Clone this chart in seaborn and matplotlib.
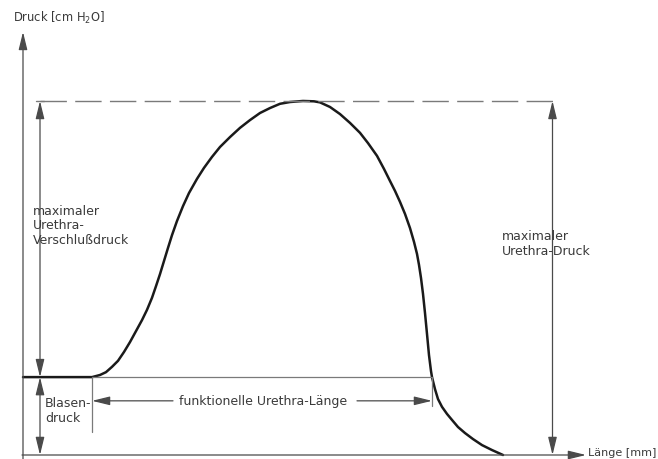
import matplotlib
matplotlib.use("Agg")
import matplotlib.pyplot as plt
import seaborn as sns
import pandas as pd

# --- data ---
laenge_mm = [0, 13.8, 15.4, 16.6, 17.8, 19.0, 20.2, 21.4, 22.6, 23.8, 24.8, 25.8,
             26.6, 27.4, 28.2, 29.0, 29.8, 30.8, 32.0, 33.2, 34.8, 36.2, 37.8,
             39.4, 41.4, 43.4, 45.4, 47.4, 49.4, 51.4, 53.4, 56.0,
             58.2, 59.4, 61.4, 63.4, 65.4, 67.4, 69.0, 70.8, 72.2, 73.4, 74.4,
             75.4, 76.4, 77.4, 78.2, 78.8, 79.2, 79.6, 80.0, 80.4, 80.8, 81.2,
             81.6, 81.8, 82.4, 83.0, 83.8, 84.8, 85.8, 87.0, 88.4, 90.0, 91.8, 93.8, 96.0]
druck_cmh2o = [22.0, 22.0, 22.6, 23.4, 24.9, 26.6, 29.1, 31.9, 35.0, 38.1, 41.0, 44.4,
               47.7, 51.1, 54.8, 58.5, 62.1, 66.1, 70.3, 74.0, 78.0, 81.1, 84.2,
               87.0, 89.8, 92.4, 94.6, 96.6, 98.0, 99.2, 99.7, 100.0,
               99.9, 99.6, 98.3, 96.3, 93.8, 91.0, 88.1, 84.5, 80.8, 77.4, 74.6,
               71.5, 68.1, 64.1, 60.2, 56.8, 53.7, 50.0, 45.5, 40.1, 34.2, 28.2,
               23.7, 22.0, 18.6, 15.8, 13.6, 11.6, 9.9, 7.9, 6.2, 4.5, 2.8, 1.4, 0.0]
blasendruck = 22.0
max_druck = 100.0
start_urethra = 13.8
ende_urethra = 81.8

label_y = "Druck [cm H$_2$O]"
label_x = "Länge [mm]"
label_mvd = "maximaler\nUrethra-\nVerschlußdruck"
label_mud = "maximaler\nUrethra-Druck"
label_blase = "Blasen-\ndruck"
label_fl = "funktionelle Urethra-Länge"

df = pd.DataFrame({"Länge": laenge_mm, "Druck": druck_cmh2o})

sns.set_theme(style="white")
plt.rcParams["font.family"] = ["DejaVu Sans"]

fig = plt.figure(figsize=(6.58, 4.60), dpi=100)
ax = fig.add_axes([0, 0, 1, 1])
ax.set_xlim(-4.6, 127.0)
ax.set_ylim(-1.13, 128.8)
ax.axis("off")

grey = "#7a7a7a"
txt = "#3a3a3a"
thin = 0.9

sns.lineplot(data=df, x="Länge", y="Druck", ax=ax, color="#1a1a1a", linewidth=1.8,
             sort=False, estimator=None)

def arrow(x0, y0, x1, y1, style="-|>"):
    ax.annotate("", xy=(x1, y1), xytext=(x0, y0),
                arrowprops=dict(arrowstyle=style + ",head_length=0.9,head_width=0.22",
                                mutation_scale=12, color="#4a4a4a", lw=thin,
                                shrinkA=0, shrinkB=0))

# axes
arrow(0, -1.2, 0, 119.5)
arrow(-0.2, 0, 112.6, 0)

# dashed max line
ax.plot([3.4, 107.4], [max_druck, max_druck], color=grey, lw=1.0, dashes=(19, 6))
ax.plot([2.6, 4.2], [max_druck, max_druck], color=grey, lw=1.0)

# baseline (bladder pressure) continuation
ax.plot([start_urethra, ende_urethra], [blasendruck, blasendruck], color=grey, lw=thin)

# left vertical arrows
arrow(3.4, blasendruck, 3.4, max_druck, "<|-|>")
arrow(3.4, 0, 3.4, blasendruck, "<|-|>")

# right vertical arrow
arrow(105.9, 0, 105.9, max_druck, "<|-|>")

# vertical ticks for functional length
ax.plot([start_urethra, start_urethra], [blasendruck, 6.5], color=grey, lw=thin)
ax.plot([ende_urethra, ende_urethra], [blasendruck, 13.8], color=grey, lw=thin)

# functional length arrows
arrow(30.0, 15.3, start_urethra, 15.3)
arrow(66.8, 15.3, ende_urethra, 15.3)

fs = 9
ax.text(-2.0, 123.7, label_y, fontsize=8.3, color=txt, ha="left", va="center")
ax.text(113.0, 0.9, label_x, fontsize=8, color=txt, ha="left", va="center")
ax.text(2.0, 65.0, label_mvd, fontsize=fs, color=txt, ha="left", va="center", linespacing=1.15)
ax.text(95.8, 59.9, label_mud, fontsize=fs, color=txt, ha="left", va="center", linespacing=1.15)
ax.text(4.4, 12.7, label_blase, fontsize=fs, color=txt, ha="left", va="center", linespacing=1.15)
ax.text(48.0, 15.3, label_fl, fontsize=fs, color=txt, ha="center", va="center")

fig.savefig("out.png", dpi=100)
